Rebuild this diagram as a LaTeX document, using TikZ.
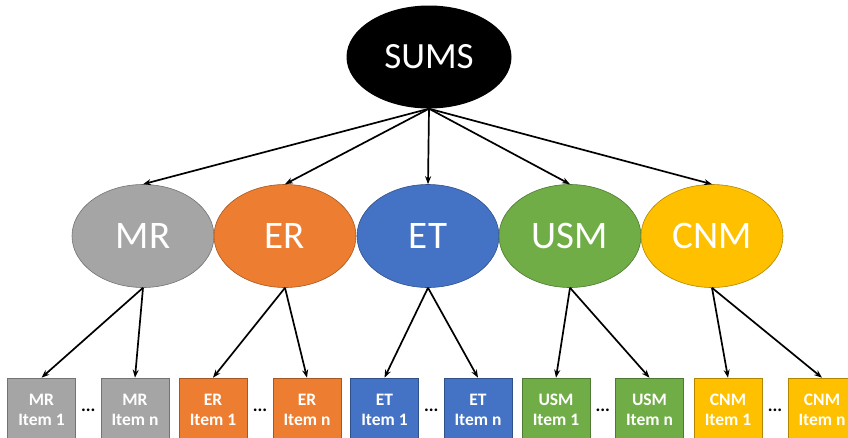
\documentclass[tikz,border=0pt]{standalone}
\usepackage{fontspec}
\setmainfont{Carlito}
\usetikzlibrary{positioning,arrows.meta,shapes.geometric,calc}
\usepackage{xcolor}
\definecolor{mrgray}{HTML}{A5A5A5}
\definecolor{erorange}{HTML}{ED7D31}
\definecolor{etblue}{HTML}{4472C4}
\definecolor{usmgreen}{HTML}{70AD47}
\definecolor{cnmgold}{HTML}{FFC000}

\begin{document}
\begin{tikzpicture}[
    x=1pt, y=-1pt,
    top/.style={
        ellipse,
        fill=black,
        minimum width=165pt,
        minimum height=103pt,
        inner sep=0pt,
        text=white,
        font=\fontsize{37}{37}\selectfont
    },
    oval/.style={
        ellipse,
        fill=#1,
        draw=#1!70!black,
        line width=0.6pt,
        minimum width=142pt,
        minimum height=103pt,
        inner sep=0pt,
        text=white,
        font=\fontsize{39}{39}\selectfont
    },
    item/.style={
        rectangle,
        fill=#1,
        draw=#1!70!black,
        line width=0.6pt,
        minimum width=68pt,
        minimum height=64pt,
        inner sep=0pt,
        align=center,
        text=white,
        font=\fontsize{17.5}{20}\selectfont\bfseries
    },
    gap/.style={font=\fontsize{18}{18}\selectfont\bfseries},
    link/.style={-{Stealth[length=8pt,width=6pt]}, line width=1.7pt},
]
\clip (0,0) rectangle (848,437);

\node[top] (sums) at (429,57) {SUMS};

% middle row and its items
\foreach \lbl/\key/\cx/\ax/\bx/\col in {
    MR/mr/143/41.5/135/mrgray,
    ER/er/285/213/307/erorange,
    ET/et/428/384.5/478/etblue,
    USM/usm/570/556/649.5/usmgreen,
    CNM/cnm/712/728/822/cnmgold}
{
    \node[oval=\col] (\key) at (\cx,236) {\lbl};
    \draw[link] (sums.south) -- (\key.north);
    \node[item=\col] (\key first) at (\ax,410) {\lbl\\Item 1};
    \node[item=\col] (\key last) at (\bx,410) {\lbl\\Item n};
    \node[gap] (\key dots) at ($(\key first)!0.5!(\key last)$) {...};
    \draw[link] (\key.south) -- (\key first.north);
    \draw[link] (\key.south) -- (\key last.north);
}
\end{tikzpicture}
\end{document}
